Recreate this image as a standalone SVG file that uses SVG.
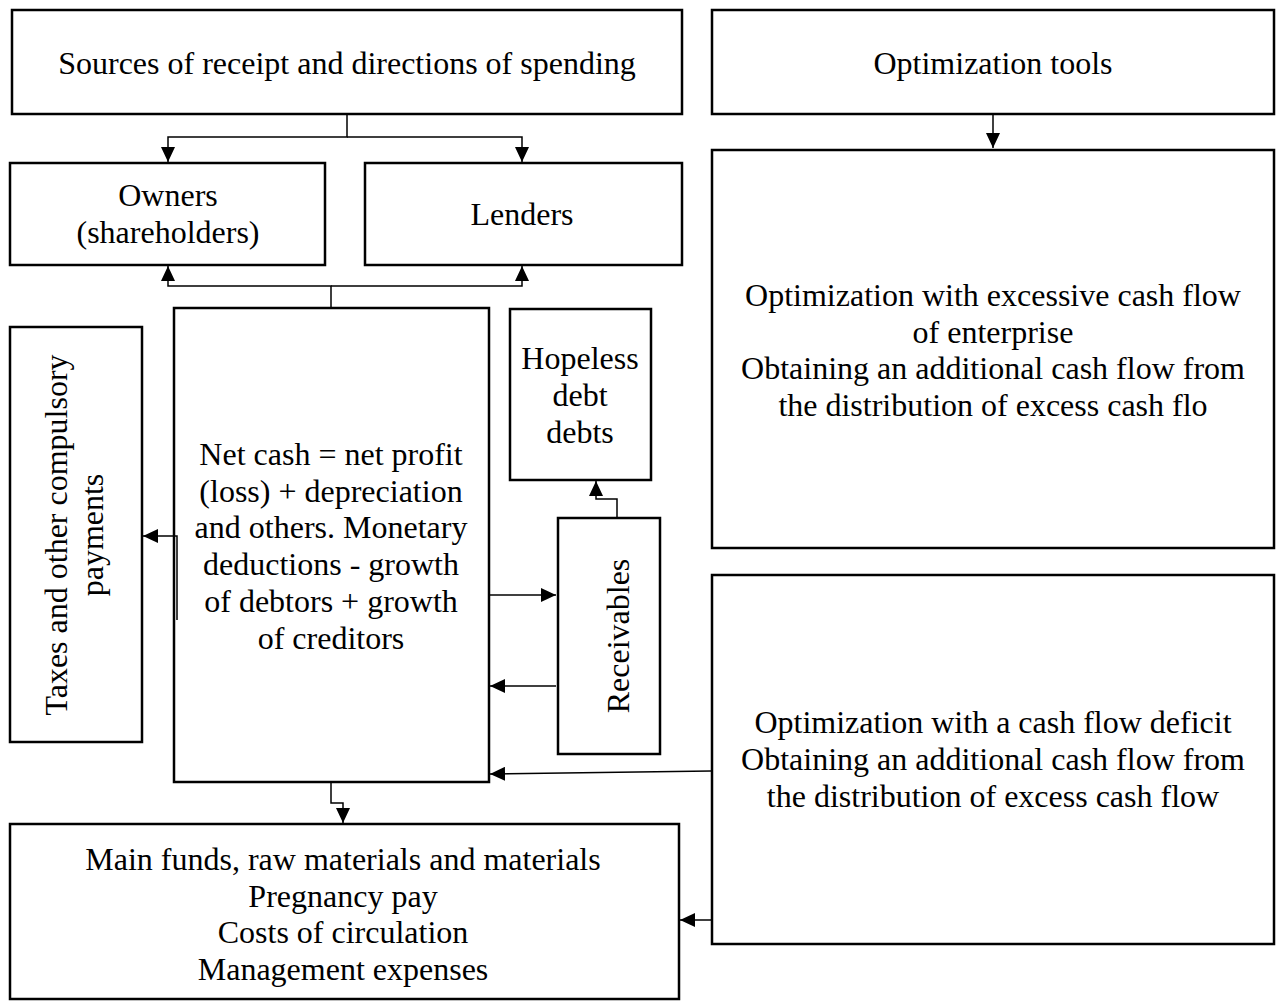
<svg xmlns="http://www.w3.org/2000/svg" width="1276" height="1001" viewBox="0 0 1276 1001">
<style>
.box{fill:#fff;stroke:#000;stroke-width:2.5}
.t{font-family:"Liberation Serif","Times New Roman",serif;font-size:32px;fill:#000;text-anchor:middle}
.c{fill:none;stroke:#000;stroke-width:1.5}
</style>
<defs>
<marker id="ahL" viewBox="0 0 15 14" refX="15" refY="7" markerWidth="15" markerHeight="14" markerUnits="userSpaceOnUse" orient="auto">
<path d="M0,0 L15,7 L0,14 z" fill="#000"/>
</marker>
</defs>
<rect width="1276" height="1001" fill="#fff"/>

<g id="sources">
<rect class="box" x="12" y="10" width="670" height="104"/>
<text class="t" x="347" y="74">Sources of receipt and directions of spending</text>
</g>
<g id="opt-tools">
<rect class="box" x="712" y="10" width="562" height="104"/>
<text class="t" x="993" y="74">Optimization tools</text>
</g>
<g id="owners">
<rect class="box" x="10" y="163" width="315" height="102"/>
<text class="t" x="168" y="206">Owners</text>
<text class="t" x="168" y="243">(shareholders)</text>
</g>
<g id="lenders">
<rect class="box" x="365" y="163" width="317" height="102"/>
<text class="t" x="522" y="225">Lenders</text>
</g>
<g id="opt-excess">
<rect class="box" x="712" y="150" width="562" height="398"/>
<text class="t" x="993" y="306">Optimization with excessive cash flow</text>
<text class="t" x="993" y="343">of enterprise</text>
<text class="t" x="993" y="379">Obtaining an additional cash flow from</text>
<text class="t" x="993" y="416">the distribution of excess cash flo</text>
</g>
<g id="taxes">
<rect class="box" x="10" y="327" width="132" height="415"/>
<text class="t" transform="translate(67,535) rotate(-90)">Taxes and other compulsory</text>
<text class="t" transform="translate(103,535) rotate(-90)">payments</text>
</g>
<g id="net-cash">
<rect class="box" x="174" y="308" width="315" height="474"/>
<text class="t" x="331" y="465">Net cash = net profit</text>
<text class="t" x="331" y="502">(loss) + depreciation</text>
<text class="t" x="331" y="538">and others. Monetary</text>
<text class="t" x="331" y="575">deductions - growth</text>
<text class="t" x="331" y="612">of debtors + growth</text>
<text class="t" x="331" y="649">of creditors</text>
</g>
<g id="hopeless">
<rect class="box" x="510" y="309" width="141" height="171"/>
<text class="t" x="580" y="369">Hopeless</text>
<text class="t" x="580" y="406">debt</text>
<text class="t" x="580" y="443">debts</text>
</g>
<g id="receivables">
<rect class="box" x="558" y="518" width="102" height="236"/>
<text class="t" transform="translate(629,636) rotate(-90)">Receivables</text>
</g>
<g id="opt-deficit">
<rect class="box" x="712" y="575" width="562" height="369"/>
<text class="t" x="993" y="733">Optimization with a cash flow deficit</text>
<text class="t" x="993" y="770">Obtaining an additional cash flow from</text>
<text class="t" x="993" y="807">the distribution of excess cash flow</text>
</g>
<g id="main-funds">
<rect class="box" x="10" y="824" width="669" height="175"/>
<text class="t" x="343" y="870">Main funds, raw materials and materials</text>
<text class="t" x="343" y="907">Pregnancy pay</text>
<text class="t" x="343" y="943">Costs of circulation</text>
<text class="t" x="343" y="980">Management expenses</text>
</g>

<g id="connectors">
<path class="c" d="M347,114 V137 H168 V162" marker-end="url(#ahL)"/>
<path class="c" d="M347,137 H522 V162" marker-end="url(#ahL)"/>
<path class="c" d="M993,114 V148" marker-end="url(#ahL)"/>
<path class="c" d="M331,308 V286 H168 V266" marker-end="url(#ahL)"/>
<path class="c" d="M331,286 H522 V266" marker-end="url(#ahL)"/>
<path class="c" d="M177,620 V536 H143" marker-end="url(#ahL)"/>
<path class="c" d="M490,595 H556" marker-end="url(#ahL)"/>
<path class="c" d="M556,686 H490" marker-end="url(#ahL)"/>
<path class="c" d="M617,518 V499 H596 V481" marker-end="url(#ahL)"/>
<path class="c" d="M711,771 L490,774" marker-end="url(#ahL)"/>
<path class="c" d="M711,920 H680" marker-end="url(#ahL)"/>
<path class="c" d="M331,782 V803 H343 V823" marker-end="url(#ahL)"/>
</g>
</svg>
